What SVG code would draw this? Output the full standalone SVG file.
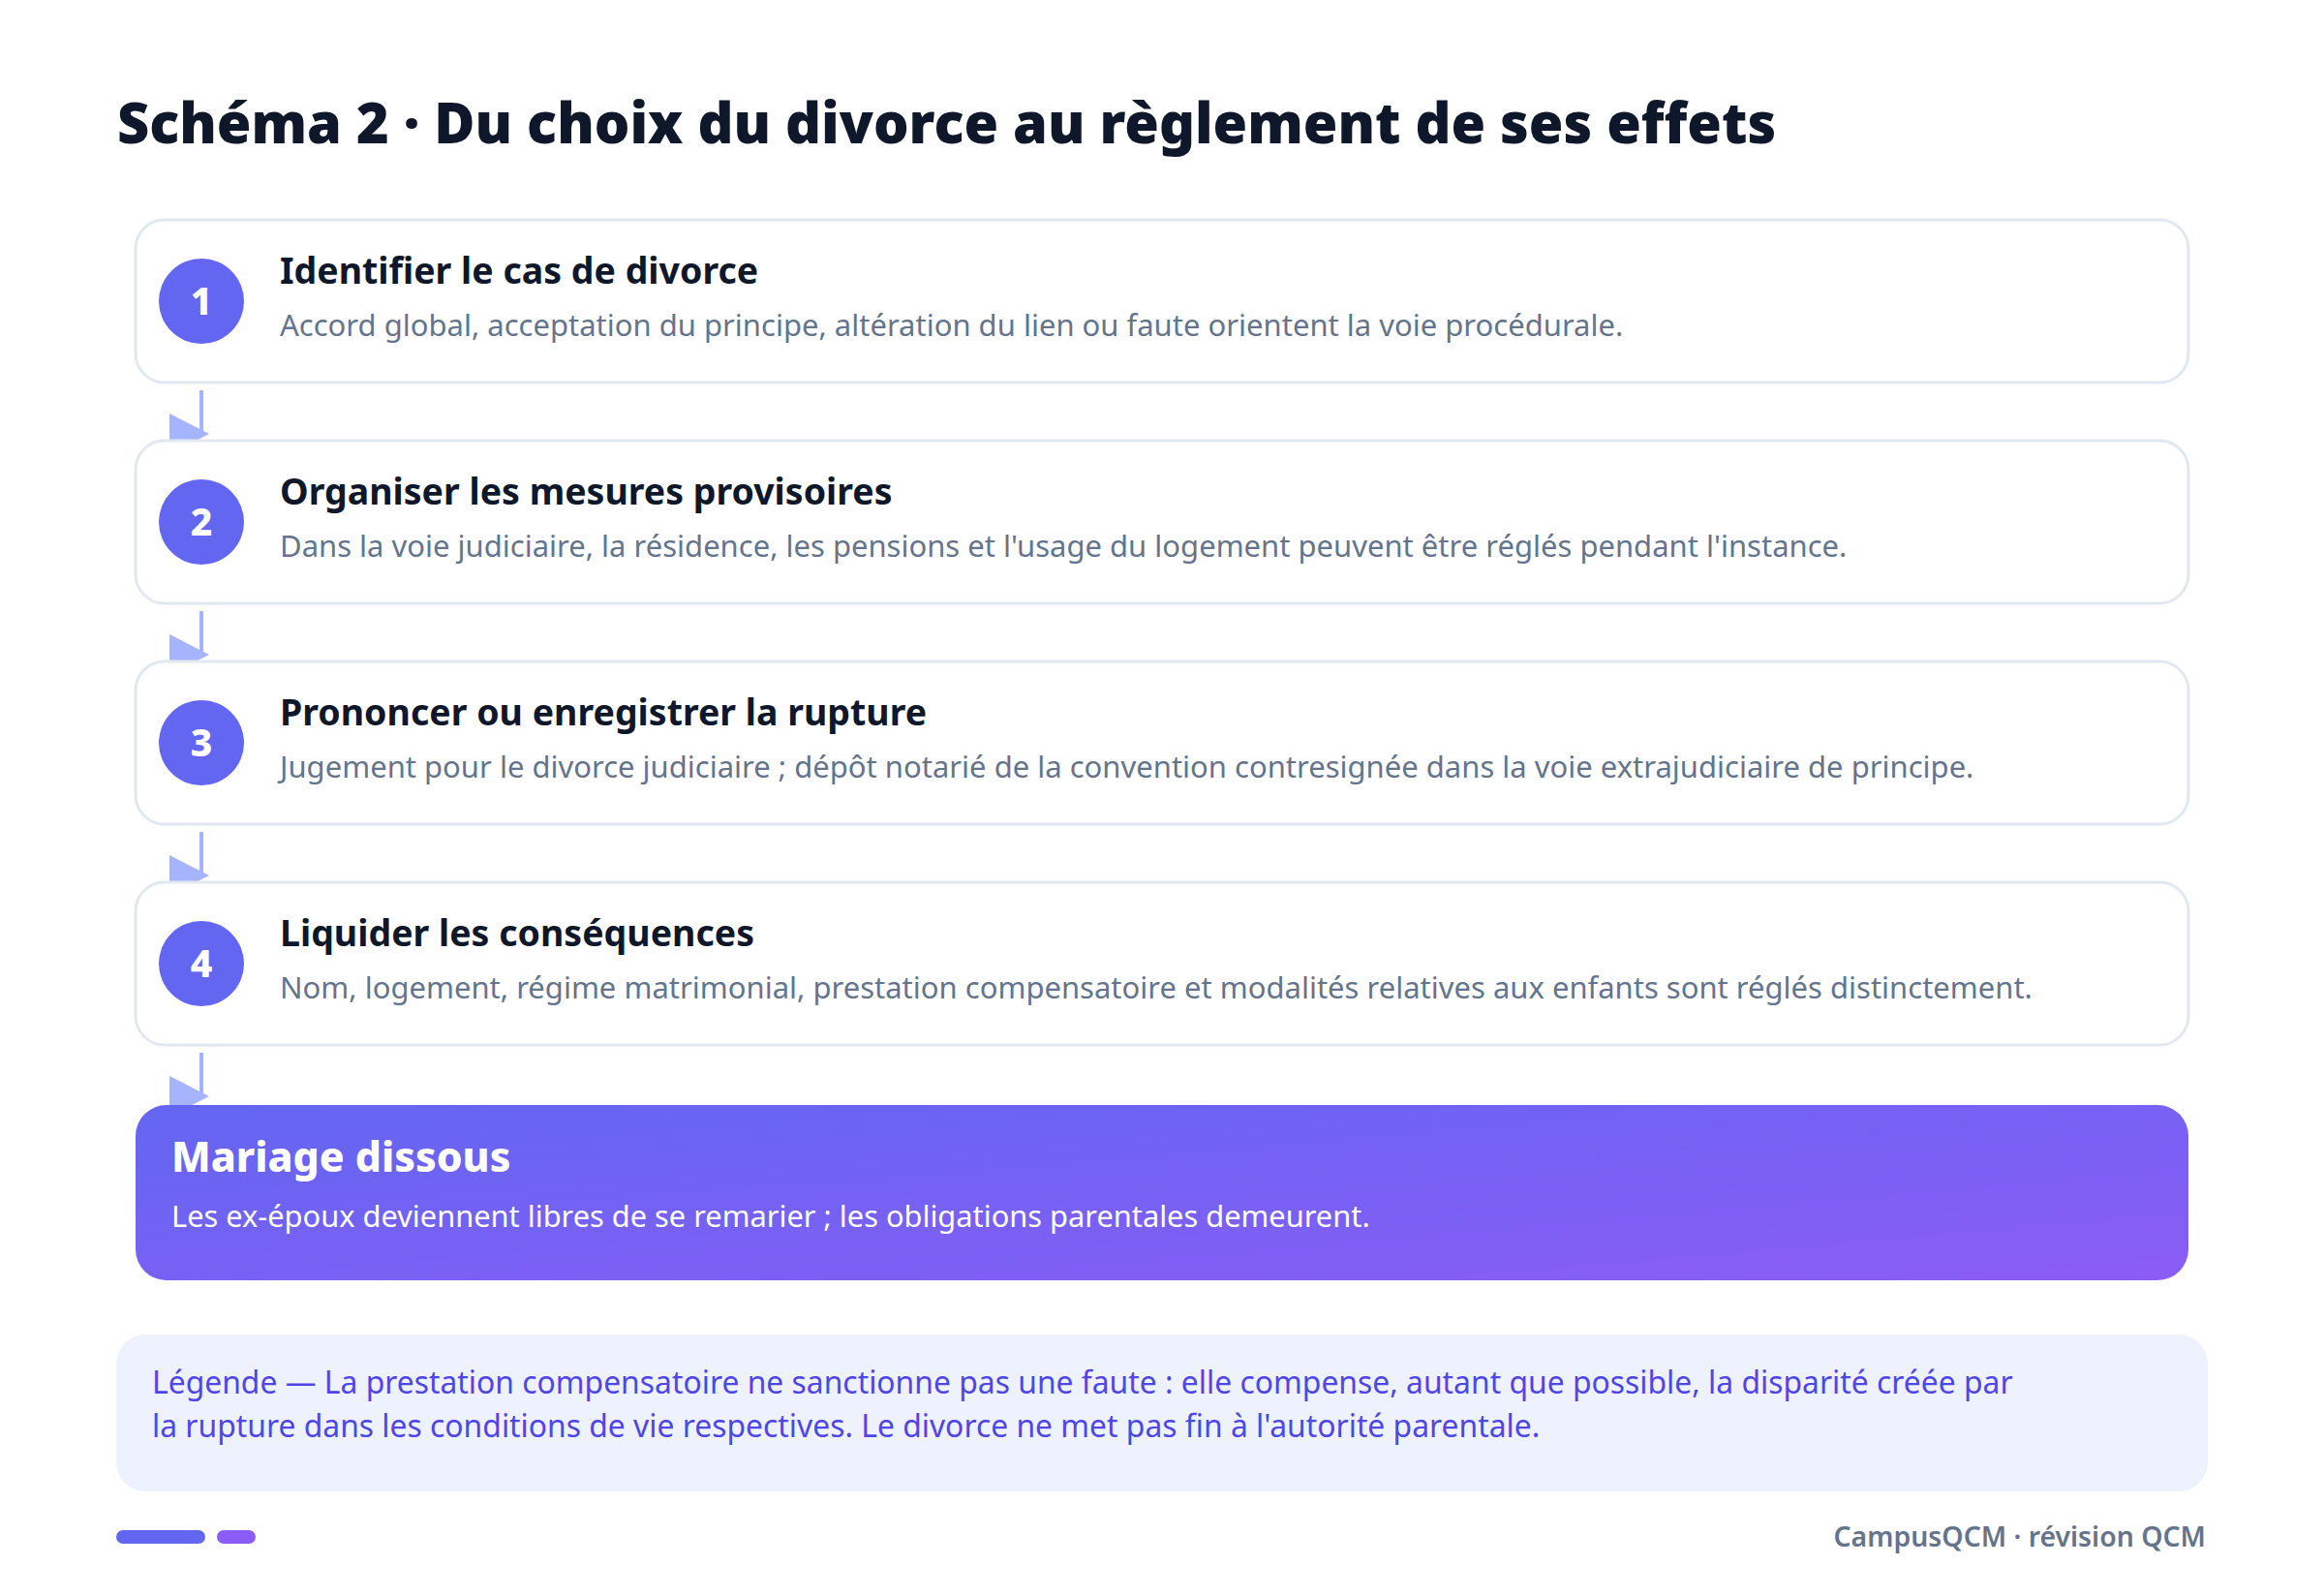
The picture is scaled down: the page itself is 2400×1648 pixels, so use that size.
<svg xmlns="http://www.w3.org/2000/svg" width="2400" height="1648" viewBox="0 0 2400 1648">
<defs>
<linearGradient id="gFinal" x1="0" y1="0" x2="1" y2="1">
<stop offset="0" stop-color="#6366f1"/>
<stop offset="1" stop-color="#8b5cf6"/>
</linearGradient>
<style>
.ttl{font-family:"Noto Sans","Open Sans",sans-serif;font-weight:900;font-size:57.6px;fill:#0f172a}
.card{fill:#ffffff;stroke:#e2e8f0;stroke-width:3}
.num{fill:#6366f1}
.numt{font-family:"Noto Sans","Open Sans",sans-serif;font-weight:800;font-size:39px;fill:#ffffff}
.ct{font-family:"Noto Sans","Open Sans",sans-serif;font-weight:700;font-size:37.5px;fill:#0f172a}
.cs{font-family:"Noto Sans","Open Sans",sans-serif;font-weight:400;font-size:31px;fill:#64748b}
.ft{font-family:"Noto Sans","Open Sans",sans-serif;font-weight:800;font-size:42.7px;fill:#ffffff}
.fs{font-family:"Noto Sans","Open Sans",sans-serif;font-weight:400;font-size:30.8px;fill:#ffffff}
.lg{font-family:"Noto Sans","Open Sans",sans-serif;font-weight:400;font-size:31.85px;fill:#4f46e5}
.foot{font-family:"Noto Sans","Open Sans",sans-serif;font-weight:600;font-size:28.4px;fill:#64748b}
.conn line{stroke:#a5b4fc;stroke-width:4}
.conn polygon{fill:#a5b4fc}
</style>
</defs>
<rect width="2400" height="1648" fill="#ffffff"/>
<text class="ttl" x="121" y="148">Schéma 2 · Du choix du divorce au règlement de ses effets</text>

<g id="connectors" class="conn">
<line x1="208" y1="403" x2="208" y2="448"/><polygon points="175,427 216,448 175,469"/>
<line x1="208" y1="631" x2="208" y2="676"/><polygon points="175,655 216,676 175,697"/>
<line x1="208" y1="859" x2="208" y2="904"/><polygon points="175,883 216,904 175,925"/>
<line x1="208" y1="1087" x2="208" y2="1132"/><polygon points="175,1111 216,1132 175,1153"/>
</g>

<g id="step1">
<rect class="card" x="140" y="227" width="2120" height="168" rx="30"/>
<circle class="num" cx="208" cy="311" r="44"/>
<text class="numt" x="208" y="325" text-anchor="middle">1</text>
<text class="ct" x="289" y="293">Identifier le cas de divorce</text>
<text class="cs" x="289" y="347">Accord global, acceptation du principe, altération du lien ou faute orientent la voie procédurale.</text>
</g>
<g id="step2">
<rect class="card" x="140" y="455" width="2120" height="168" rx="30"/>
<circle class="num" cx="208" cy="539" r="44"/>
<text class="numt" x="208" y="553" text-anchor="middle">2</text>
<text class="ct" x="289" y="521">Organiser les mesures provisoires</text>
<text class="cs" x="289" y="575">Dans la voie judiciaire, la résidence, les pensions et l'usage du logement peuvent être réglés pendant l'instance.</text>
</g>
<g id="step3">
<rect class="card" x="140" y="683" width="2120" height="168" rx="30"/>
<circle class="num" cx="208" cy="767" r="44"/>
<text class="numt" x="208" y="781" text-anchor="middle">3</text>
<text class="ct" x="289" y="749">Prononcer ou enregistrer la rupture</text>
<text class="cs" x="289" y="803">Jugement pour le divorce judiciaire ; dépôt notarié de la convention contresignée dans la voie extrajudiciaire de principe.</text>
</g>
<g id="step4">
<rect class="card" x="140" y="911" width="2120" height="168" rx="30"/>
<circle class="num" cx="208" cy="995" r="44"/>
<text class="numt" x="208" y="1009" text-anchor="middle">4</text>
<text class="ct" x="289" y="977">Liquider les conséquences</text>
<text class="cs" x="289" y="1031">Nom, logement, régime matrimonial, prestation compensatoire et modalités relatives aux enfants sont réglés distinctement.</text>
</g>
<g id="final">
<rect x="140" y="1141" width="2120" height="181" rx="32" fill="url(#gFinal)"/>
<text class="ft" x="177" y="1210">Mariage dissous</text>
<text class="fs" x="177" y="1267">Les ex-époux deviennent libres de se remarier ; les obligations parentales demeurent.</text>
</g>
<g id="legend">
<rect x="120" y="1378" width="2160" height="162" rx="30" fill="#eef2ff"/>
<text class="lg" x="157" y="1439">Légende — La prestation compensatoire ne sanctionne pas une faute : elle compense, autant que possible, la disparité créée par</text>
<text class="lg" x="157" y="1484">la rupture dans les conditions de vie respectives. Le divorce ne met pas fin à l'autorité parentale.</text>
</g>
<g id="footer">
<rect x="120" y="1580" width="92" height="14" rx="7" fill="#6366f1"/>
<rect x="224" y="1580" width="40" height="14" rx="7" fill="#8b5cf6"/>
<text class="foot" x="2278" y="1597" text-anchor="end">CampusQCM · révision QCM</text>
</g>
</svg>
